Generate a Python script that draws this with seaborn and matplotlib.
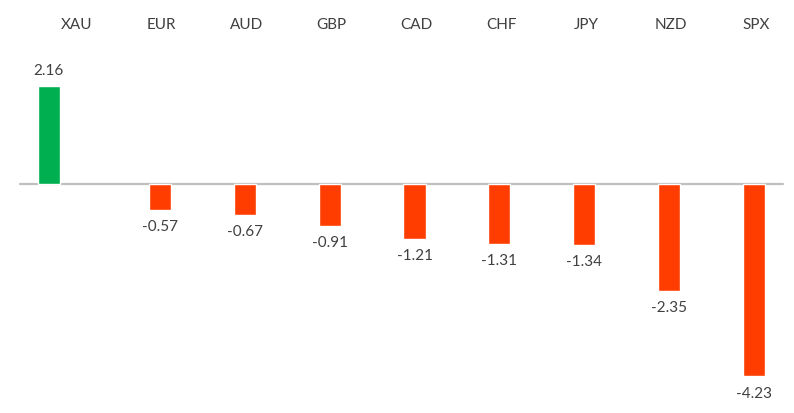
import matplotlib
matplotlib.use("Agg")
import matplotlib.pyplot as plt
import pandas as pd
import seaborn as sns

sns.set_style("white")
plt.rcParams['font.family'] = ['Lato', 'DejaVu Sans']

symbols = ["XAU", "EUR", "AUD", "GBP", "CAD", "CHF", "JPY", "NZD", "SPX"]
changes = [2.16, -0.57, -0.67, -0.91, -1.21, -1.31, -1.34, -2.35, -4.23]

data = pd.DataFrame({"symbol": symbols, "change": changes})
data["sign"] = ["up" if v >= 0 else "down" for v in data["change"]]

fig = plt.figure(figsize=(7.94, 4.14), dpi=100)
ax = fig.add_axes([0, 0, 1, 1])

sns.barplot(x="symbol", y="change", hue="sign", data=data, ax=ax,
            palette={"up": "#00B050", "down": "#FF3D00"},
            width=0.26, dodge=False, legend=False, saturation=1)

# gold bar sits left of its label in the original
first = ax.patches[0]
first.set_x(first.get_x() - 0.31)

ax.set_xlim(-0.883, 8.47)
ax.set_ylim(-5.04, 4.08)
ax.axhline(0, xmin=20 / 794, xmax=783 / 794, color="#BFBFBF", lw=1.6, zorder=0)

txt = "#404040"
for i, (s, v) in enumerate(zip(symbols, changes)):
    ax.text(i + 0.02, 3.52, s, ha="center", va="center", fontsize=11, color=txt)
    xb = i - 0.31 if i == 0 else i
    off = 0.36 if v >= 0 else -0.36
    ax.text(xb, v + off, f"{v:.2f}", ha="center", va="center", fontsize=11, color=txt)

ax.axis("off")
fig.savefig("out.png", dpi=100)
